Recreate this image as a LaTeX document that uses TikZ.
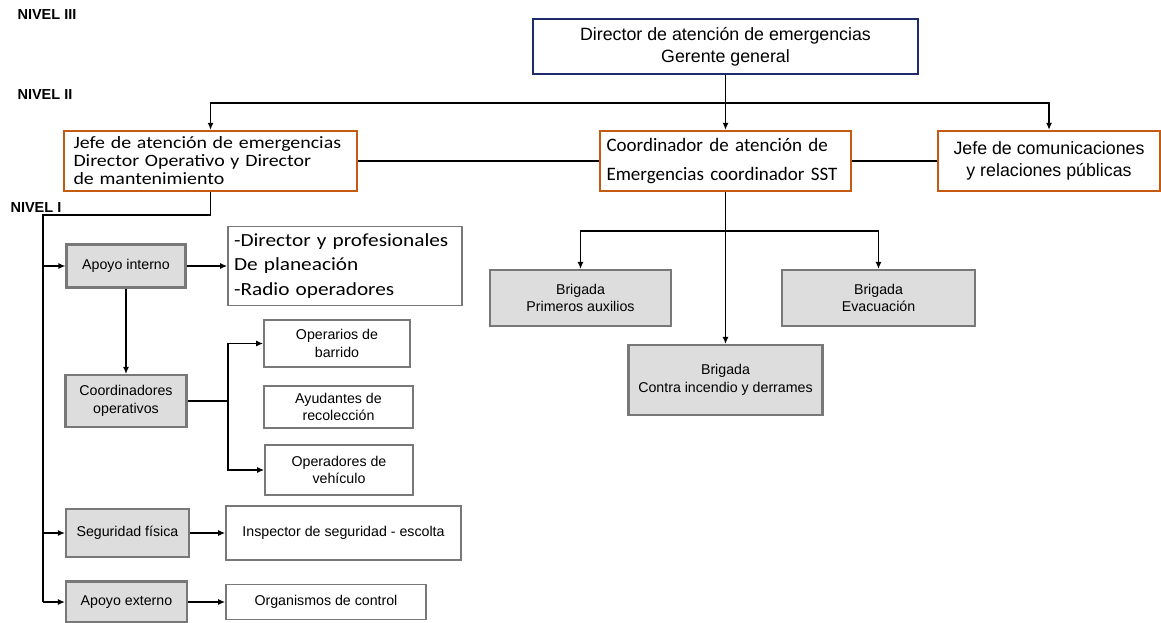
\documentclass[tikz,border=0pt]{standalone}
\usepackage{fontspec}
\setmainfont{Liberation Sans}
\newfontfamily\calibri{Carlito}
\newfontfamily\calibriancho[FakeStretch=1.15]{Carlito}
\usetikzlibrary{arrows.meta}
\definecolor{naranja}{RGB}{197,90,17}
\definecolor{marino}{RGB}{31,42,107}
\definecolor{gris}{RGB}{221,221,221}
\definecolor{borde}{RGB}{120,120,120}
\begin{document}
\begin{tikzpicture}[x=1pt,y=-1pt]
            \tikzstyle{jefe}=[draw=naranja,line width=2.4pt,inner sep=0pt]
            \tikzstyle{brigada}=[draw=borde,fill=gris,line width=2.2pt,align=center,inner sep=0pt,font=\fontsize{14.2}{17.5}\selectfont]
            \tikzstyle{cargo}=[draw=borde,line width=1.8pt,align=center,inner sep=0pt,font=\fontsize{14.2}{17.5}\selectfont]
            \tikzstyle{nivel}=[anchor=west,font=\bfseries\fontsize{14.5}{16}\selectfont]
            \tikzset{edge/.style = {-{Latex[length=7pt,width=6pt]},line width=1.2pt}}
            \tikzset{line/.style = {line width=1.2pt}}
            \useasboundingbox (0,0) rectangle (1161,623);
            \node[nivel] (n3) at (14,15) {NIVEL III};
            \node[nivel] (n2) at (14,95) {NIVEL II};
            \node[nivel] (n1) at (7,208) {NIVEL I};
            \node[draw=marino,line width=2.4pt,minimum width=385,minimum height=55,align=center,font=\fontsize{17.8}{22}\selectfont] (dir) at (725.5,46.5) {Director de atención de emergencias\\Gerente general};
            \node[jefe,minimum width=293,minimum height=60,text width=282,align=left,font=\calibriancho\fontsize{17.3}{18}\selectfont] (jat) at (210.5,161) {\hspace*{4pt}Jefe de atención de emergencias\\\hspace*{4pt}Director Operativo y Director\\\hspace*{4pt}de mantenimiento};
            \node[jefe,minimum width=251,minimum height=60,text width=238,align=left,font=\calibri\fontsize{19}{29}\selectfont] (coo) at (725.5,161) {Coordinador de atención de\\Emergencias coordinador SST};
            \node[jefe,minimum width=222,minimum height=60,align=center,font=\fontsize{17.8}{22}\selectfont] (com) at (1049,161) {Jefe de comunicaciones\\y relaciones públicas};
            \node[brigada,minimum width=181,minimum height=56] (bpa) at (580.5,298) {Brigada\\Primeros auxilios};
            \node[brigada,minimum width=193,minimum height=56] (bev) at (878.5,298) {Brigada\\Evacuación};
            \node[brigada,minimum width=194,minimum height=70] (bci) at (725.5,380) {Brigada\\Contra incendio y derrames};
            \node[brigada,minimum width=119,minimum height=43] (ain) at (126,266) {Apoyo interno};
            \node[brigada,minimum width=121,minimum height=52] (cop) at (126,401) {Coordinadores\\operativos};
            \node[brigada,minimum width=123,minimum height=48] (sfi) at (127.5,533) {Seguridad física};
            \node[brigada,minimum width=121,minimum height=41] (aex) at (126.5,602) {Apoyo externo};
            \node[cargo,minimum width=234,minimum height=79,text width=222,align=left,font=\calibriancho\fontsize{18.5}{24.5}\selectfont] (dpr) at (345,266) {-Director y profesionales\\De planeación\\-Radio operadores};
            \node[cargo,minimum width=146,minimum height=47] (oba) at (337,343.5) {Operarios de\\barrido};
            \node[cargo,minimum width=149,minimum height=42] (ayr) at (338.5,407) {Ayudantes de\\recolección};
            \node[cargo,minimum width=148,minimum height=50] (ove) at (339,470) {Operadores de\\vehículo};
            \node[cargo,minimum width=235,minimum height=54] (ins) at (343.5,533) {Inspector de seguridad - escolta};
            \node[cargo,minimum width=200,minimum height=35] (org) at (326,602) {Organismos de control};
            % nivel III y II
            \coordinate (bus) at (725.5,103);
            \draw[edge] (dir) -- (coo);
            \draw[edge] (bus) -| (jat.north);
            \draw[edge] (bus) -| (com.north);
            \draw[line] (jat) -- (coo);
            \draw[line] (coo) -- (com);
            % brigadas
            \coordinate (bbus) at (725.5,231);
            \draw[edge] (coo) -- (bci);
            \draw[edge] (bbus) -| (bpa.north);
            \draw[edge] (bbus) -| (bev.north);
            % nivel I
            \coordinate (lft) at (43,215);
            \coordinate (lfb) at (43,602);
            \draw[line] (jat.south) |- (lft) -- (lfb);
            \draw[edge] (lft |- ain) -- (ain);
            \draw[edge] (lft |- sfi) -- (sfi);
            \draw[edge] (lfb) -- (aex);
            \draw[edge] (ain) -- (dpr);
            \draw[edge] (ain) -- (cop);
            \coordinate (cbus) at (228,401);
            \draw[line] (cop) -- (cbus);
            \draw[edge] (cbus) |- (oba.west);
            \draw[edge] (cbus) |- (ove.west);
            \draw[edge] (sfi) -- (ins);
            \draw[edge] (aex) -- (org);
        \end{tikzpicture}
\end{document}
